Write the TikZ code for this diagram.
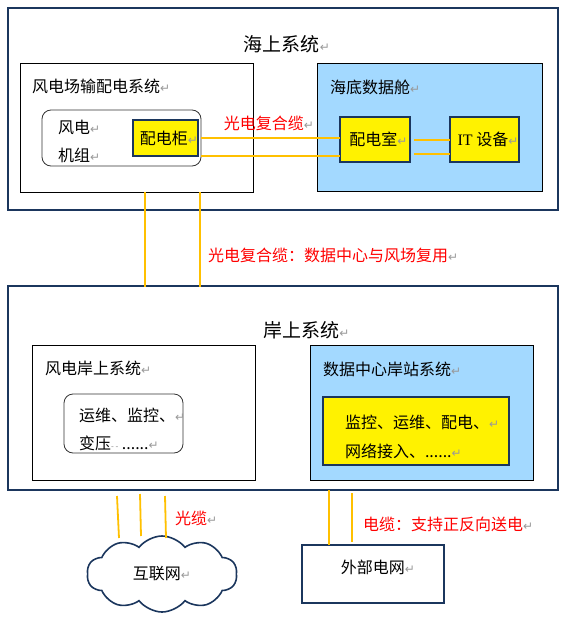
\documentclass[tikz,border=0pt]{standalone}
\usepackage{fontspec}
\setmainfont{Noto Sans CJK SC}
\newfontfamily\latinfont{Liberation Serif}
\newfontfamily\markfont{DejaVu Sans}
\usepackage{tikz}
\usetikzlibrary{positioning,shapes.symbols}
\definecolor{navy}{HTML}{1B365D}
\definecolor{podblue}{HTML}{A3D9FF}
\definecolor{cablegold}{HTML}{FFC000}
\newcommand{\retmark}{{\color{gray!80}\markfont\fontsize{12}{12}\selectfont ↵}}
\newcommand{\lowtext}[1]{\hspace*{7pt}\raisebox{-3pt}{#1}}

\begin{document}
\begin{tikzpicture}[x=1pt,y=1pt,
    every node/.style={outer sep=0pt,inner sep=0pt},
    sysbox/.style={draw=navy,line width=2pt},
    subbox/.style={draw=black,line width=1pt},
    softbox/.style={draw=black!80,line width=0.8pt,rounded corners=9pt},
    hotbox/.style={draw=navy,line width=2pt,fill=yellow},
    cable/.style={draw=cablegold,line width=1.8pt},
    redlabel/.style={text=red,font=\fontsize{16}{18}\selectfont},
    txt/.style={font=\fontsize{16}{18}\selectfont},
    heading/.style={font=\fontsize{19}{22}\selectfont}]
  \useasboundingbox (0,0) rectangle (566,-626);
  % offshore side
  \node[sysbox,minimum width=550pt,minimum height=202pt] (seasys) at (283,-109) {};
  \node[heading] (seatitle) at (287,-44) {海上系统\retmark};
  \node[subbox,minimum width=233pt,minimum height=128pt,below right=56pt and 12pt of seasys.north west] (farm) {};
  \node[txt,anchor=west] (farmlabel) at (32,-86) {风电场输配电系统\retmark};
  \node[softbox,minimum width=159pt,minimum height=56pt,below right=46pt and 22pt of farm.north west] (turbine) {};
  \node[txt,anchor=west] (turbinea) at (58,-127) {风电\retmark};
  \node[txt,anchor=west] (turbineb) at (58,-155) {机组\retmark};
  \node[hotbox,minimum width=65pt,minimum height=36pt,txt,left=3pt of turbine.east] (cabinet) {\lowtext{配电柜\retmark}};
  \node[subbox,fill=podblue,minimum width=225pt,minimum height=127pt,below right=56pt and 309pt of seasys.north west] (pod) {};
  \node[txt,anchor=west] (podlabel) at (330,-87) {海底数据舱\retmark};
  \node[hotbox,minimum width=70pt,minimum height=45pt,txt,below right=53pt and 23pt of pod.north west] (room) {\lowtext{配电室\retmark}};
  \node[hotbox,minimum width=69pt,minimum height=45pt,txt,right=40pt of room] (itgear) {\lowtext{{\latinfont IT} 设备\retmark}};
  \draw[cable] (turbine.east) -- ([yshift=1.5pt]room.west);
  \draw[cable] ([yshift=-18pt]turbine.east) -- ([yshift=-16.5pt]room.west);
  \draw[cable] ([xshift=4pt,yshift=-0.6pt]room.east) -- ([yshift=-0.6pt]itgear.west);
  \draw[cable] ([xshift=4pt,yshift=-14.5pt]room.east) -- ([yshift=-14.5pt]itgear.west);
  \node[redlabel] (hybridlabel) at (269,-123) {光电复合缆\retmark};
  % onshore side
  \node[sysbox,minimum width=550pt,minimum height=204pt,below=76pt of seasys] (shoresys) {};
  \node[heading] (shoretitle) at (306.5,-330) {岸上系统\retmark};
  \node[subbox,minimum width=223pt,minimum height=135pt,below right=59pt and 24pt of shoresys.north west] (windshore) {};
  \node[txt,anchor=west] (windlabel) at (45,-368) {风电岸上系统\retmark};
  \node[softbox,minimum width=119pt,minimum height=59pt,below right=49pt and 32pt of windshore.north west] (ops) {};
  \node[txt,anchor=west] (opsa) at (79,-415) {运维、监控、\retmark};
  \node[txt,anchor=west] (opsb) at (79,-443) {变压\textcolor{gray}{\fontsize{8}{8}\selectfont - -} ......\retmark};
  \node[subbox,fill=podblue,minimum width=223pt,minimum height=135pt,right=55pt of windshore] (station) {};
  \node[txt,anchor=west] (stationlabel) at (323,-369) {数据中心岸站系统\retmark};
  \node[hotbox,minimum width=186pt,minimum height=68pt,below right=52pt and 13pt of station.north west] (stationcore) {};
  \node[txt,anchor=west] (corea) at (345,-422) {监控、运维、配电、\retmark};
  \node[txt,anchor=west] (coreb) at (345,-451) {网络接入、......\retmark};
  % links between the two sides
  \draw[cable] ([xshift=8.5pt]farm.south) -- ([xshift=-138pt,yshift=-1pt]shoresys.north);
  \draw[cable] ([xshift=63.5pt]farm.south) -- ([xshift=-83pt,yshift=-1pt]shoresys.north);
  \node[redlabel,anchor=west] (linklabel) at (208,-255) {光电复合缆：数据中心与风场复用\retmark};
  % outside world
  \node[draw=navy,line width=1.6pt,cloud,cloud puffs=10,cloud puff arc=105,aspect=2,minimum width=150pt,minimum height=76pt,txt] (internet) at (162,-574) {互联网\retmark};
  \node[sysbox,minimum width=142pt,minimum height=58pt,anchor=north west] (grid) at (302,-545) {};
  \node[txt] (gridlabel) at (378,-567) {外部电网\retmark};
  \coordinate (fibera) at (117,-496);
  \coordinate (fiberb) at (140,-494);
  \coordinate (fiberc) at (165,-496);
  \draw[cable] (fibera) -- ([xshift=-43pt,yshift=-2pt]internet.north);
  \draw[cable] (fiberb) -- ([xshift=-21pt]internet.north);
  \draw[cable] (fiberc) -- ([xshift=4pt,yshift=-2pt]internet.north);
  \node[redlabel,anchor=west] (fiberlabel) at (175,-518) {光缆\retmark};
  \draw[cable] ([xshift=46pt]shoresys.south) -- ([xshift=-44pt]grid.north);
  \coordinate (powertop) at (352,-493);
  \draw[cable] (powertop) -- ([xshift=-21pt,yshift=3pt]grid.north);
  \node[redlabel,anchor=west] (powerlabel) at (363,-524) {电缆：支持正反向送电\retmark};
\end{tikzpicture}
\end{document}
